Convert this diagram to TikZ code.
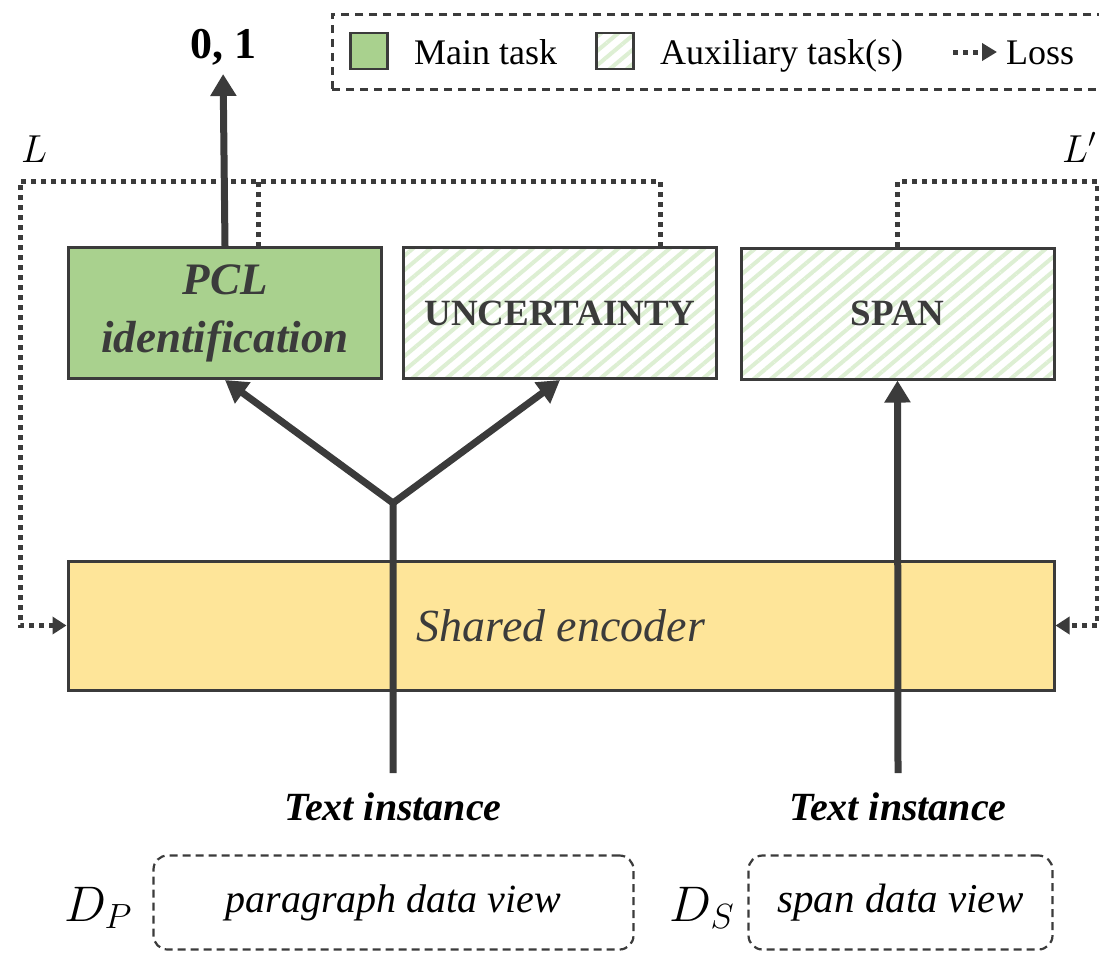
\RequirePackage{fix-cm}
\documentclass[tikz,border=0pt]{standalone}
\usepackage{fontspec}
\setmainfont{Liberation Serif}
\usetikzlibrary{arrows.meta,patterns.meta}

\definecolor{ink}{HTML}{3B3B3B}
\definecolor{maingreen}{HTML}{A9D18E}
\definecolor{hatchgreen}{HTML}{DDEFD3}
\definecolor{encyellow}{HTML}{FEE599}

\newcommand{\fsz}[1]{\fontsize{#1}{1.25\dimexpr#1pt\relax}\selectfont}

\begin{document}
\begin{tikzpicture}[x=1pt,y=-1pt,
  taskbox/.style={draw=ink, line width=3pt, minimum width=313pt, minimum height=131pt,
    inner sep=0pt, text=ink, align=center},
  mainfill/.style={fill=maingreen},
  auxfill/.style={preaction={fill=white},
    pattern={Lines[angle=40,distance=11pt,line width=4pt]}, pattern color=hatchgreen},
  encbox/.style={draw=ink, line width=3pt, fill=encyellow, minimum width=986pt,
    minimum height=129pt, inner sep=0pt, text=ink},
  flow/.style={draw=ink, line width=7pt, -{Triangle[length=22pt,width=25pt]}},
  loss/.style={draw=ink, line width=5pt, dash pattern=on 5pt off 5pt,
    -{Triangle[length=14pt,width=17pt]}},
  lossline/.style={draw=ink, line width=5pt, dash pattern=on 5pt off 5pt},
  viewbox/.style={draw=ink, line width=2.2pt, dash pattern=on 8pt off 5pt,
    rounded corners=14pt, inner sep=0pt, minimum height=94pt},
  legendframe/.style={draw=ink, line width=2.5pt, dash pattern=on 8pt off 6pt},
  swatch/.style={draw=ink, line width=2.5pt, minimum width=37pt, minimum height=36pt, inner sep=0pt},
  legtext/.style={font=\fsz{36}, inner sep=0pt},
  inlabel/.style={font=\fsz{40}\bfseries\itshape, inner sep=0pt},
]
\useasboundingbox (0,0) rectangle (1099,954);

% legend
\node[legendframe, minimum width=790pt, minimum height=75pt, anchor=north west, inner sep=0pt]
  (legend) at (331,13) {};
\node[swatch, mainfill] (swMain) at (369,51) {};
\node[legtext, anchor=base west] (lgMain) at (414,64) {Main task};
\node[swatch, auxfill] (swAux) at (615,51) {};
\node[legtext, anchor=base west] (lgAux) at (660,64) {Auxiliary task(s)};
\coordinate (lgLossA) at (953,52);
\coordinate (lgLossB) at (997,52);
\draw[loss, -{Triangle[length=15pt,width=17pt]}] (lgLossA) -- (lgLossB);
\node[legtext, anchor=base west] (lgLoss) at (1006,64) {Loss};

% task heads
\node[taskbox, mainfill, font=\fontsize{45}{58}\selectfont\bfseries\itshape] (pcl) at (225,313)
  {PCL\\identification};
\node[taskbox, auxfill, font=\fsz{37}\bfseries] (unc) at (560,313) {UNCERTAINTY};
\node[taskbox, auxfill, font=\fsz{37}\bfseries] (span) at (897.5,313.5) {SPAN};

% shared encoder
\node[encbox, font=\fsz{46}\itshape] (enc) at (561,625.5) {Shared encoder};

% output of the main task
\node[font=\fsz{44}\bfseries, anchor=base, inner sep=0pt] (out) at (223,58) {0, 1};
\draw[flow, shorten >=9pt] (pcl.north) -- (out.south);

% loss labels
\node[font=\fsz{39}, anchor=base west, inner sep=0pt] (lossLabL) at (21,162) {$L$};
\node[font=\fsz{39}, anchor=base west, inner sep=0pt] (lossLabR) at (1062,162) {$L'$};

% loss feedback paths
\coordinate (lossL) at (20,181);
\coordinate (lossR) at (1097,181);
\coordinate (pclTap) at (258,247);
\coordinate (uncTap) at (660,247);
\draw[loss] (uncTap) |- (lossL) |- (enc.west);
\draw[lossline] (pclTap) -- (pclTap |- lossL);
\draw[loss] (span.north) |- (lossR) |- (enc.east);

% inputs
\coordinate (srcP) at (393,773);
\coordinate (fork) at (393,503);
\coordinate (srcS) at (898,773);
\draw[flow] (srcP) -- (fork) -- (pcl.south);
\draw[flow] (fork) -- (unc.south);
\draw[flow] (srcS) -- (span.south);

\node[inlabel, anchor=base] (txtP) at (393,820) {Text instance};
\node[inlabel, anchor=base] (txtS) at (898,820) {Text instance};

% data views
\node[viewbox, minimum width=480pt, font=\fsz{40}\itshape] (viewP) at (393.5,902.5)
  {paragraph data view};
\node[viewbox, minimum width=304pt, font=\fsz{41}\itshape] (viewS) at (900.5,902.5)
  {span data view};
\node[font=\fsz{50}, anchor=base, inner sep=0pt] (dP) at (98,921) {$D_P$};
\node[font=\fsz{50}, anchor=base, inner sep=0pt] (dS) at (702,921) {$D_S$};
\end{tikzpicture}
\end{document}
